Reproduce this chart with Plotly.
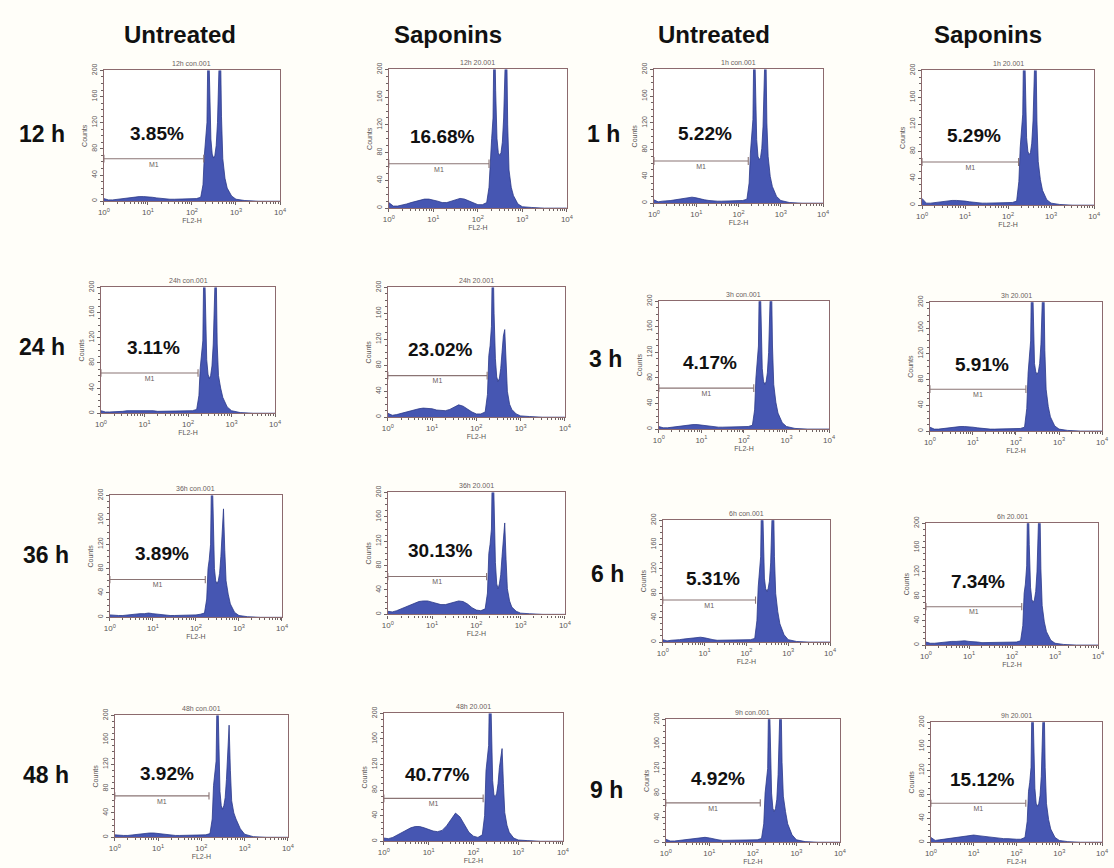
import plotly.graph_objects as go
import math

W, H = 1114, 868

# ---------------- data ----------------
# shared FL2-H channel grid (log scale, 10^0 .. 10^4)
FL2H = [1, 1.26, 1.58, 2.0, 2.51, 3.16, 3.98, 5.01, 6.31, 7.94,
        10, 12.6, 15.8, 20.0, 25.1, 31.6, 39.8, 50.1, 63.1, 79.4,
        100, 126, 158, 178, 191, 204, 219, 234, 251, 269,
        288, 309, 331, 355, 380, 407, 437, 468, 501, 562,
        631, 794, 1000, 1585, 3162, 10000]

COL_HEADERS = ["Untreated", "Saponins", "Untreated", "Saponins"]
ROW_LABELS_LEFT = ["12 h", "24 h", "36 h", "48 h"]
ROW_LABELS_RIGHT = ["1 h", "3 h", "6 h", "9 h"]

PANEL_TITLES = [
    ["12h con.001", "12h 20.001", "1h con.001", "1h 20.001"],
    ["24h con.001", "24h 20.001", "3h con.001", "3h 20.001"],
    ["36h con.001", "36h 20.001", "6h con.001", "6h 20.001"],
    ["48h con.001", "48h 20.001", "9h con.001", "9h 20.001"],
]
PERCENTS = [
    ["3.85%", "16.68%", "5.22%", "5.29%"],
    ["3.11%", "23.02%", "4.17%", "5.91%"],
    ["3.89%", "30.13%", "5.31%", "7.34%"],
    ["3.92%", "40.77%", "4.92%", "15.12%"],
]

C12_CON = [4, 2, 2, 3, 3, 4, 5, 6, 7, 7, 7, 6, 5, 4, 3, 3, 3, 3, 3, 3, 3, 4, 6,
           25, 70, 90, 120, 270, 160, 95, 72, 66, 70, 85, 120, 180, 270, 130, 65, 35, 20, 8, 3, 1, 0, 0]
C12_SAP = [8, 3, 3, 4, 6, 8, 10, 12, 13, 13, 12, 10, 8, 8, 10, 12, 14, 13, 10, 7, 5, 5, 8,
           30, 80, 100, 130, 280, 170, 100, 80, 76, 80, 95, 130, 190, 270, 120, 55, 30, 18, 6, 2, 1, 0, 0]
C1_CON = [5, 2, 3, 3, 4, 5, 6, 7, 8, 9, 8, 6, 5, 4, 3, 3, 3, 3, 3, 3, 4, 4, 6,
          30, 75, 95, 125, 270, 160, 95, 70, 65, 68, 82, 115, 175, 260, 120, 70, 40, 25, 10, 4, 1, 0, 0]
C1_SAP = [10, 3, 3, 4, 5, 6, 6, 7, 7, 7, 6, 5, 4, 4, 3, 3, 3, 3, 3, 3, 4, 4, 6,
          35, 85, 105, 135, 280, 170, 100, 80, 75, 78, 92, 125, 185, 265, 125, 65, 38, 22, 8, 3, 1, 0, 0]

C24_CON = [4, 2, 2, 2, 3, 3, 4, 4, 5, 5, 5, 4, 4, 3, 3, 3, 3, 3, 3, 3, 3, 4, 6,
           28, 72, 90, 115, 270, 150, 85, 62, 55, 60, 75, 110, 170, 260, 110, 60, 40, 25, 10, 4, 1, 0, 0]
C24_SAP = [6, 3, 4, 6, 8, 10, 12, 13, 14, 14, 13, 11, 10, 10, 12, 16, 19, 17, 12, 8, 5, 5, 8,
           35, 95, 110, 140, 280, 160, 90, 62, 55, 60, 75, 100, 125, 135, 80, 40, 20, 12, 5, 2, 1, 0, 0]
C3_CON = [4, 2, 2, 3, 4, 5, 6, 7, 7, 7, 6, 5, 4, 3, 3, 3, 3, 3, 3, 3, 3, 4, 6,
          30, 80, 100, 130, 275, 165, 95, 75, 70, 74, 88, 120, 180, 265, 130, 70, 42, 25, 10, 4, 1, 0, 0]
C3_SAP = [6, 3, 3, 4, 5, 6, 6, 7, 7, 7, 6, 5, 4, 4, 3, 3, 3, 3, 3, 3, 4, 4, 6,
          35, 90, 110, 140, 280, 170, 105, 92, 88, 92, 105, 135, 190, 265, 125, 65, 38, 22, 8, 3, 1, 0, 0]

C36_CON = [4, 3, 3, 3, 4, 4, 5, 6, 6, 7, 6, 5, 4, 4, 3, 3, 3, 3, 3, 4, 4, 5, 7,
           30, 80, 95, 120, 270, 150, 80, 60, 55, 60, 72, 100, 150, 178, 110, 60, 38, 22, 8, 3, 1, 0, 0]
C36_SAP = [5, 4, 6, 9, 12, 15, 18, 21, 22, 22, 20, 18, 16, 16, 18, 21, 22, 21, 17, 11, 7, 6, 9,
           35, 100, 115, 140, 285, 160, 85, 50, 42, 50, 65, 95, 130, 150, 90, 42, 22, 12, 5, 2, 1, 0, 0]
C6_CON = [4, 2, 3, 3, 4, 5, 6, 7, 8, 8, 7, 5, 4, 3, 3, 3, 3, 3, 3, 3, 3, 4, 6,
          35, 90, 110, 140, 280, 175, 105, 88, 83, 88, 100, 130, 185, 270, 140, 80, 50, 30, 12, 4, 1, 0, 0]
C6_SAP = [5, 3, 3, 4, 5, 5, 6, 6, 7, 7, 6, 6, 5, 4, 4, 4, 4, 4, 4, 4, 4, 5, 7,
          32, 85, 100, 130, 275, 165, 95, 75, 70, 74, 88, 120, 180, 265, 125, 65, 38, 22, 8, 3, 1, 0, 0]

C48_CON = [4, 3, 3, 3, 4, 5, 6, 6, 7, 7, 6, 5, 4, 4, 3, 3, 3, 3, 3, 3, 4, 4, 6,
           30, 85, 100, 125, 270, 150, 75, 52, 46, 52, 65, 95, 150, 184, 110, 60, 40, 30, 14, 5, 1, 0, 0]
C48_SAP = [5, 4, 6, 10, 14, 18, 21, 23, 23, 21, 18, 16, 15, 17, 24, 34, 44, 38, 25, 14, 8, 6, 10,
           40, 110, 125, 150, 290, 170, 95, 72, 70, 75, 90, 115, 135, 145, 90, 45, 25, 14, 5, 2, 1, 0, 0]
C9_CON = [5, 2, 2, 3, 4, 5, 6, 7, 8, 8, 7, 5, 4, 3, 3, 3, 3, 3, 3, 3, 3, 4, 6,
          30, 80, 95, 120, 270, 150, 80, 55, 50, 55, 70, 110, 170, 265, 130, 75, 50, 30, 12, 4, 1, 0, 0]
C9_SAP = [8, 3, 4, 5, 6, 8, 9, 10, 11, 12, 12, 11, 10, 9, 8, 7, 7, 6, 6, 5, 5, 5, 8,
          35, 85, 100, 125, 275, 160, 90, 65, 60, 64, 78, 110, 170, 265, 125, 65, 38, 22, 8, 3, 1, 0, 0]

COUNTS = [
    [C12_CON, C12_SAP, C1_CON, C1_SAP],
    [C24_CON, C24_SAP, C3_CON, C3_SAP],
    [C36_CON, C36_SAP, C6_CON, C6_SAP],
    [C48_CON, C48_SAP, C9_CON, C9_SAP],
]

# M1 gate (FL2-H start/end, count level)
M1_START = 1
M1_END = [
    [185, 178, 170, 175],
    [170, 175, 170, 170],
    [165, 170, 165, 168],
    [150, 165, 148, 165],
]
M1_LEVEL = [
    [65, 64, 63, 64],
    [64, 64, 64, 65],
    [62, 62, 69, 63],
    [68, 67, 64, 65],
]

Y_TICKS = [0, 40, 80, 120, 160, 200]
X_TICKS = [1, 10, 100, 1000, 10000]
X_TICK_TEXT = ["10<sup>0</sup>", "10<sup>1</sup>", "10<sup>2</sup>", "10<sup>3</sup>", "10<sup>4</sup>"]

# ---------------- layout (pixel boxes: x0, x1, ytop, ybottom) ----------------
BOXES = [
    [(99, 277, 64, 196), (387, 567, 63, 203), (655, 826, 63, 198), (926, 1100, 64, 200)],
    [(96, 272, 283, 410), (386, 565, 283, 414), (660, 832, 297, 426), (934, 1108, 298, 428)],
    [(105, 279, 493, 616), (386, 565, 490, 613), (664, 833, 518, 641), (930, 1104, 521, 644)],
    [(110, 285, 715, 838), (382, 563, 713, 842), (667, 843, 719, 843), (935, 1108, 722, 843)],
]
HEADER_X = [176, 447, 716, 993]
HEADER_Y = 28
LEFT_LABEL_POS = [(36, 128), (36, 343), (40, 553), (40, 775)]
RIGHT_LABEL_POS = [(604, 128), (606, 355), (608, 572), (607, 790)]

FONT = "Liberation Sans, Arial, sans-serif"
BOX_COLOR = "#8c6a6e"
FILL = "rgba(70,86,178,1)"
EDGE = "#2b3889"
TICK_COLOR = "#6d6262"

fig = go.Figure()
layout = dict(
    width=W, height=H,
    margin=dict(l=0, r=0, t=0, b=0),
    paper_bgcolor="#fffef9",
    plot_bgcolor="#ffffff",
    showlegend=False,
    font=dict(family=FONT),
)
annotations = []

n = 0
for r in range(4):
    for c in range(4):
        n += 1
        xa = "x" if n == 1 else f"x{n}"
        ya = "y" if n == 1 else f"y{n}"
        x0, x1, yt, yb = BOXES[r][c]
        layout["xaxis" if n == 1 else f"xaxis{n}"] = dict(
            domain=[x0 / W, x1 / W], anchor=ya, type="log", range=[0, 4],
            tickmode="array", tickvals=X_TICKS, ticktext=X_TICK_TEXT,
            ticks="outside", ticklen=3, tickcolor=TICK_COLOR,
            tickfont=dict(size=8, color="#5a5555", family=FONT),
            minor=dict(ticks="outside", ticklen=2, tickcolor=TICK_COLOR, dtick="D1"),
            showline=True, linecolor=BOX_COLOR, linewidth=1.3, mirror=True,
            showgrid=False, zeroline=False, fixedrange=True,
            title=dict(text="FL2-H", font=dict(size=7, color="#5a5555"), standoff=0),
        )
        layout["yaxis" if n == 1 else f"yaxis{n}"] = dict(
            domain=[1 - yb / H, 1 - yt / H], anchor=xa, range=[0, 200],
            tickmode="array", tickvals=Y_TICKS,
            ticks="outside", ticklen=3, tickcolor=TICK_COLOR, tickangle=-90,
            tickfont=dict(size=7, color="#5a5555", family=FONT),
            minor=dict(ticks="outside", ticklen=2, tickcolor=TICK_COLOR, dtick=10),
            showline=True, linecolor=BOX_COLOR, linewidth=1.3, mirror=True,
            showgrid=False, zeroline=False, fixedrange=True,
            title=dict(text="Counts", font=dict(size=7, color="#5a5555"), standoff=2),
        )
        # histogram
        fig.add_trace(go.Scatter(
            x=FL2H, y=COUNTS[r][c], xaxis=xa, yaxis=ya, mode="lines",
            line=dict(color=EDGE, width=0.8, shape="linear"),
            fill="tozeroy", fillcolor=FILL, hoverinfo="skip",
        ))
        # M1 gate marker
        lvl = M1_LEVEL[r][c]
        end = M1_END[r][c]
        fig.add_trace(go.Scatter(
            x=[M1_START, M1_START, None, M1_START, end, None, end, end],
            y=[lvl - 6, lvl + 6, None, lvl, lvl, None, lvl - 6, lvl + 6],
            xaxis=xa, yaxis=ya, mode="lines",
            line=dict(color="#8a7474", width=1.1), hoverinfo="skip",
        ))
        fig.add_trace(go.Scatter(
            x=[math.sqrt(M1_START * end)], y=[lvl - 4], xaxis=xa, yaxis=ya,
            mode="text", text=["M1"], textposition="bottom center",
            textfont=dict(size=7, color="#6a6060", family=FONT), hoverinfo="skip",
        ))
        # panel title
        annotations.append(dict(
            text=PANEL_TITLES[r][c], xref=f"{xa} domain", yref=f"{ya} domain",
            x=0.5, y=1.0, xanchor="center", yanchor="bottom", yshift=1,
            showarrow=False, font=dict(size=7, color="#6a6060", family=FONT),
        ))
        # percentage
        annotations.append(dict(
            text=f"<b>{PERCENTS[r][c]}</b>", xref=f"{xa} domain", yref=f"{ya} domain",
            x=0.30, y=0.52, xanchor="center", yanchor="middle",
            showarrow=False, font=dict(size=19, color="#111111", family=FONT),
        ))

for i, h in enumerate(COL_HEADERS):
    annotations.append(dict(
        text=f"<b>{h}</b>", xref="paper", yref="paper",
        x=HEADER_X[i] / W, y=1 - HEADER_Y / H, xanchor="center", yanchor="middle",
        showarrow=False, font=dict(size=24, color="#111111", family=FONT),
    ))
for lab, (px, py) in zip(ROW_LABELS_LEFT, LEFT_LABEL_POS):
    annotations.append(dict(
        text=f"<b>{lab}</b>", xref="paper", yref="paper",
        x=px / W, y=1 - py / H, xanchor="center", yanchor="middle",
        showarrow=False, font=dict(size=23, color="#111111", family=FONT),
    ))
for lab, (px, py) in zip(ROW_LABELS_RIGHT, RIGHT_LABEL_POS):
    annotations.append(dict(
        text=f"<b>{lab}</b>", xref="paper", yref="paper",
        x=px / W, y=1 - py / H, xanchor="center", yanchor="middle",
        showarrow=False, font=dict(size=23, color="#111111", family=FONT),
    ))

layout["annotations"] = annotations
fig.update_layout(**layout)
fig.write_html("out.html", config={"displayModeBar": False})
